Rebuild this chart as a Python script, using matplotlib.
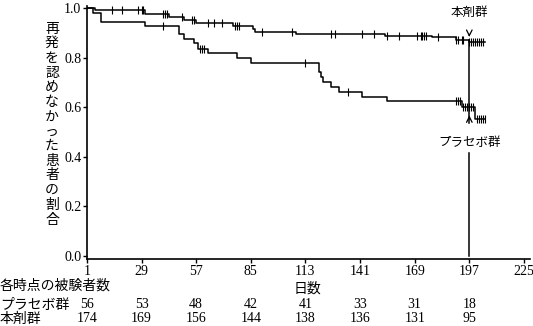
import numpy as np
import matplotlib
matplotlib.use("Agg")
import matplotlib.pyplot as plt

plt.rcParams['font.family'] = ['Liberation Serif', 'Noto Sans CJK JP']

# Kaplan-Meier steps (day, proportion without relapse)
drug_t = [1, 5, 31, 43, 51, 57, 76, 86, 87, 108, 154, 178, 190, 197, 205]
drug_s = [1.0, 0.992, 0.976, 0.962, 0.952, 0.941, 0.927, 0.914, 0.902, 0.897,
          0.887, 0.882, 0.871, 0.864, 0.864]
drug_cens = [14, 19, 27, 29, 30, 40, 41, 42, 50, 55, 56, 63, 66, 70, 77, 78, 79,
             91, 106, 126, 128, 142, 148, 155, 161, 170, 172, 173, 174, 175, 181,
             190, 191, 193, 194, 197, 198, 199, 200, 201, 202, 203, 204]

plac_t = [1, 4, 8, 31, 48, 51, 56, 58, 63, 78, 85, 120, 121, 122, 126, 130, 142,
          155, 193, 200, 205]
plac_s = [1.0, 0.981, 0.945, 0.927, 0.894, 0.874, 0.858, 0.836, 0.817, 0.797,
          0.78, 0.741, 0.72, 0.703, 0.682, 0.662, 0.642, 0.625, 0.60, 0.552, 0.552]
plac_cens = [40, 59, 60, 61, 113, 135, 190, 191, 192, 194, 195, 196, 197, 198,
             199, 201, 202, 203, 204, 205]

xticks = [1, 29, 57, 85, 113, 141, 169, 197, 225]
risk_days = [1, 29, 57, 85, 113, 141, 169, 197]
risk_plac = [56, 53, 48, 42, 41, 33, 31, 18]
risk_drug = [174, 169, 156, 144, 138, 136, 131, 95]

ylabel = "再発を認めなかった患者の割合"


def at(times, surv, pts):
    idx = np.searchsorted(times, pts, side='right') - 1
    return np.array(surv)[idx]


fig = plt.figure(figsize=(5.33, 3.26), dpi=100)
ax = fig.add_axes([0.163, 0.2055, 0.831, 0.776])

for t, s, c in [(drug_t, drug_s, drug_cens), (plac_t, plac_s, plac_cens)]:
    ax.step(t, s, where='post', color='black', lw=1.1)
    ax.plot(c, at(t, s, c), ls='none', marker='|', ms=6, mew=0.8, color='black')

# annotations at day 197
ax.annotate('', xy=(197, 0.872), xytext=(197, 0.905),
            arrowprops=dict(arrowstyle='->', lw=0.9, color='black'))
ax.plot([197, 197], [0.535, 0.872], color='black', lw=1.1)
ax.annotate('', xy=(197, 0.578), xytext=(197, 0.54),
            arrowprops=dict(arrowstyle='->', lw=0.9, color='black'))
ax.plot([197, 197], [0, 0.415], color='black', lw=1.1)
ax.text(197, 0.98, "本剤群", ha='center', va='center', fontsize=9)
ax.text(197, 0.456, "プラセボ群", ha='center', va='center', fontsize=9)

ax.set_xlim(1, 228)
ax.set_ylim(-0.013, 1.008)
ax.set_xticks(xticks)
ax.set_yticks([0.0, 0.2, 0.4, 0.6, 0.8, 1.0])
ax.set_yticklabels(["0.0", "0.2", "0.4", "0.6", "0.8", "1.0"])
ax.tick_params(labelsize=10, length=3, width=1, pad=1)
for side in ['top', 'right']:
    ax.spines[side].set_visible(False)
for side in ['left', 'bottom']:
    ax.spines[side].set_linewidth(1.2)

# vertical y label, one character per row
for i, ch in enumerate(ylabel):
    fig.text(52 / 533, 1 - (29 + i * 14.7) / 326, ch, ha='center', va='center',
             fontsize=10)

# x label and number at risk table
trans = ax.get_xaxis_transform()
ax.text(114, -0.12, "日数", transform=trans, ha='center', va='center', fontsize=10)
fig.text(0.0, 1 - 286 / 326, "各時点の被験者数", ha='left', va='center', fontsize=10)
fig.text(0.0, 1 - 305 / 326, "プラセボ群", ha='left', va='center', fontsize=10)
fig.text(0.0, 1 - 319 / 326, "本剤群", ha='left', va='center', fontsize=10)
y_p = (1 - 305 / 326 - 0.2055) / 0.776
y_d = (1 - 319 / 326 - 0.2055) / 0.776
for d, p, q in zip(risk_days, risk_plac, risk_drug):
    ax.text(d, y_p, str(p), transform=trans, ha='center', va='center', fontsize=10, clip_on=False)
    ax.text(d, y_d, str(q), transform=trans, ha='center', va='center', fontsize=10, clip_on=False)

fig.savefig("out.png", dpi=100)
